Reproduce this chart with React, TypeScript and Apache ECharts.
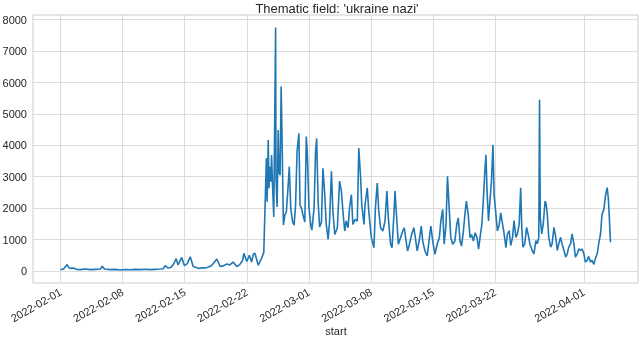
import React, { useEffect, useRef } from 'react';
import * as echarts from 'echarts';

// hours since 2022-02-01 00:00
const hours = [
  0, 8, 18, 22, 27, 35, 43, 54, 67, 81, 94, 108, 113, 119, 135, 148, 162, 175, 189, 202,
  216, 229, 243, 256, 270, 278, 283, 291, 299, 305, 313, 318, 328, 335, 343, 351, 359, 367, 375, 383,
  391, 399, 409, 423, 432, 440, 450, 458, 467, 477, 485, 493, 496, 504, 511, 517, 522, 526, 535, 544, 550,
  557, 559, 562, 564, 566, 569, 571, 574, 577, 582, 583, 586, 589, 591, 594, 597, 600, 603, 607, 611,
  616, 619, 623, 628, 632, 636, 640, 645, 648, 652, 656, 661, 665, 668, 672, 677, 680, 686, 690, 693,
  697, 701, 706, 710, 715, 719, 724, 728, 733, 737, 742, 749, 755, 760, 764, 769, 773, 778, 782, 787,
  791, 797, 803, 807, 812, 815, 821, 824, 830, 834, 841, 848, 852, 857, 861, 866, 872, 878, 883, 887,
  893, 897, 902, 905, 910, 914, 920, 926, 930, 935, 939, 944, 950, 956, 960, 965, 971, 976, 980, 986,
  992, 998, 1002, 1007, 1013, 1019, 1025, 1029, 1034, 1038, 1043, 1047, 1052, 1056, 1061, 1067, 1072, 1076, 1081, 1085,
  1090, 1095, 1098, 1103, 1108, 1112, 1117, 1122, 1127, 1131, 1135, 1140, 1144, 1148, 1151, 1154, 1158, 1162, 1166, 1170,
  1173, 1178, 1182, 1187, 1191, 1196, 1200, 1205, 1209, 1214, 1218, 1223, 1227, 1232, 1236, 1241, 1245, 1248, 1251, 1256,
  1261, 1265, 1270, 1276, 1281, 1286, 1290, 1294, 1296, 1298, 1302, 1306, 1311, 1314, 1317, 1321, 1326, 1330, 1335, 1340,
  1344, 1348, 1353, 1357, 1362, 1367, 1371, 1375, 1380, 1384, 1389, 1393, 1398, 1402, 1407, 1411, 1416, 1420, 1425, 1429,
  1434, 1438, 1443, 1447, 1452, 1456, 1461, 1465, 1470, 1475, 1479, 1482, 1484, 1488,
];

const mentions = [
  40, 60, 200, 110, 80, 90, 50, 40, 60, 40, 50, 60, 150, 60, 40, 50, 30, 45, 35, 50,
  40, 55, 40, 50, 60, 70, 170, 90, 120, 200, 390, 190, 430, 170, 230, 450, 140, 110, 80, 100,
  90, 120, 170, 380, 140, 160, 220, 190, 280, 140, 200, 340, 560, 300, 500, 280, 540, 560, 180, 400, 590,
  3590, 2200, 4170, 2630, 3320, 2840, 3690, 2630, 1720, 7750, 2950, 2040, 4490, 3160, 3050, 5870, 3800, 1460, 1780, 1880,
  2730, 3320, 1990, 1560, 1460, 2100, 3800, 4380, 2100, 1990, 1780, 1560, 4280, 3690, 2040, 1460, 1300, 1990, 3800, 4220,
  2200, 1400, 1560, 3270, 2420, 1480, 1000, 1590, 3170, 1900, 1160, 1375, 2860, 2540, 1900, 1270, 1590, 1375, 2010, 2430,
  1480, 1640, 1590, 3915, 2960, 2115, 1480, 2115, 2645, 1900, 1060, 740, 2010, 2800, 1900, 1375, 1270, 1590, 2540, 1690,
  850, 740, 1800, 2540, 1590, 850, 1060, 1270, 1375, 950, 635, 850, 1160, 1375, 1060, 635, 1000, 1430, 950, 635,
  475, 1060, 1430, 950, 530, 850, 1060, 1590, 1960, 850, 1480, 3015, 1900, 1060, 850, 950, 1480, 1690, 950, 790,
  1270, 1900, 2220, 1800, 1060, 1160, 950, 1215, 1060, 690, 1060, 1480, 2275, 3170, 3700, 2540, 1590, 2275, 2860, 4020,
  2430, 1800, 1270, 1480, 1850, 1480, 1200, 740, 1160, 1280, 810, 1070, 1600, 1070, 1176, 1490, 2650, 1385, 756, 860,
  1385, 1176, 860, 650, 546, 966, 860, 1070, 5450, 1700, 1176, 1490, 2226, 2120, 1800, 1070, 756, 860, 1385, 1070,
  650, 860, 1070, 860, 650, 440, 546, 756, 860, 1176, 860, 440, 546, 700, 650, 700, 546, 283, 336, 462,
  283, 336, 210, 390, 546, 860, 1176, 1800, 1960, 2436, 2650, 2330, 1910, 913,
];

const xTickHours = [0, 168, 336, 504, 672, 840, 1008, 1176, 1416];
const xTickLabels = [
  '2022-02-01', '2022-02-08', '2022-02-15', '2022-02-22', '2022-03-01',
  '2022-03-08', '2022-03-15', '2022-03-22', '2022-04-01',
];
const yTicks = [0, 1000, 2000, 3000, 4000, 5000, 6000, 7000, 8000];

const titleText = "Thematic field: 'ukraine nazi'";
const xName = 'start';

export default function App() {
  const ref = useRef<HTMLDivElement>(null);
  useEffect(() => {
    if (!ref.current) return;
    const chart = echarts.init(ref.current, null, { renderer: 'svg' });
    const font = "'Liberation Sans', Arial, sans-serif";
    const textColor = '#262626';
    chart.setOption({
      animation: false,
      textStyle: { fontFamily: font },
      grid: {
        left: 33, right: 2, top: 15, bottom: 55,
        outerBoundsMode: 'none', containLabel: false,
        show: true, borderColor: '#cccccc', borderWidth: 1,
      },
      graphic: [
        {
          type: 'text', x: 337, y: 8,
          style: {
            text: titleText, font: `13px ${font}`, fill: textColor,
            textAlign: 'center', textVerticalAlign: 'middle',
          },
        },
        {
          type: 'text', x: 336, y: 331,
          style: {
            text: xName, font: `11px ${font}`, fill: textColor,
            textAlign: 'center', textVerticalAlign: 'middle',
          },
        },
      ],
      xAxis: {
        type: 'value', min: -74.4, max: 1562.4,
        axisLine: { show: false },
        axisTick: { show: false, customValues: xTickHours },
        axisLabel: {
          customValues: xTickHours,
          formatter: (v: number) => {
            const i = xTickHours.indexOf(Math.round(v));
            return i >= 0 ? xTickLabels[i] : '';
          },
          rotate: 30, fontSize: 11, color: textColor, margin: 8, fontFamily: font,
        },
        splitLine: { show: true, lineStyle: { color: '#dcdcdc', width: 1 } },
      },
      yAxis: {
        type: 'value', min: -385, max: 8150,
        axisLine: { show: false },
        axisTick: { show: false, customValues: yTicks },
        axisLabel: {
          customValues: yTicks, fontSize: 11, color: textColor, margin: 6, fontFamily: font,
          formatter: (v: number) => String(Math.round(v)),
        },
        splitLine: { show: true, lineStyle: { color: '#dcdcdc', width: 1 } },
      },
      series: [
        {
          type: 'line',
          data: hours.map((h, i) => [h, mentions[i]]),
          showSymbol: false, symbol: 'none',
          lineStyle: { color: '#1f77b4', width: 1.6 },
          itemStyle: { color: '#1f77b4' },
        },
      ],
    });
    return () => chart.dispose();
  }, []);
  return <div ref={ref} style={{ position: 'fixed', left: 0, top: 0, width: 640, height: 338 }} />;
}
